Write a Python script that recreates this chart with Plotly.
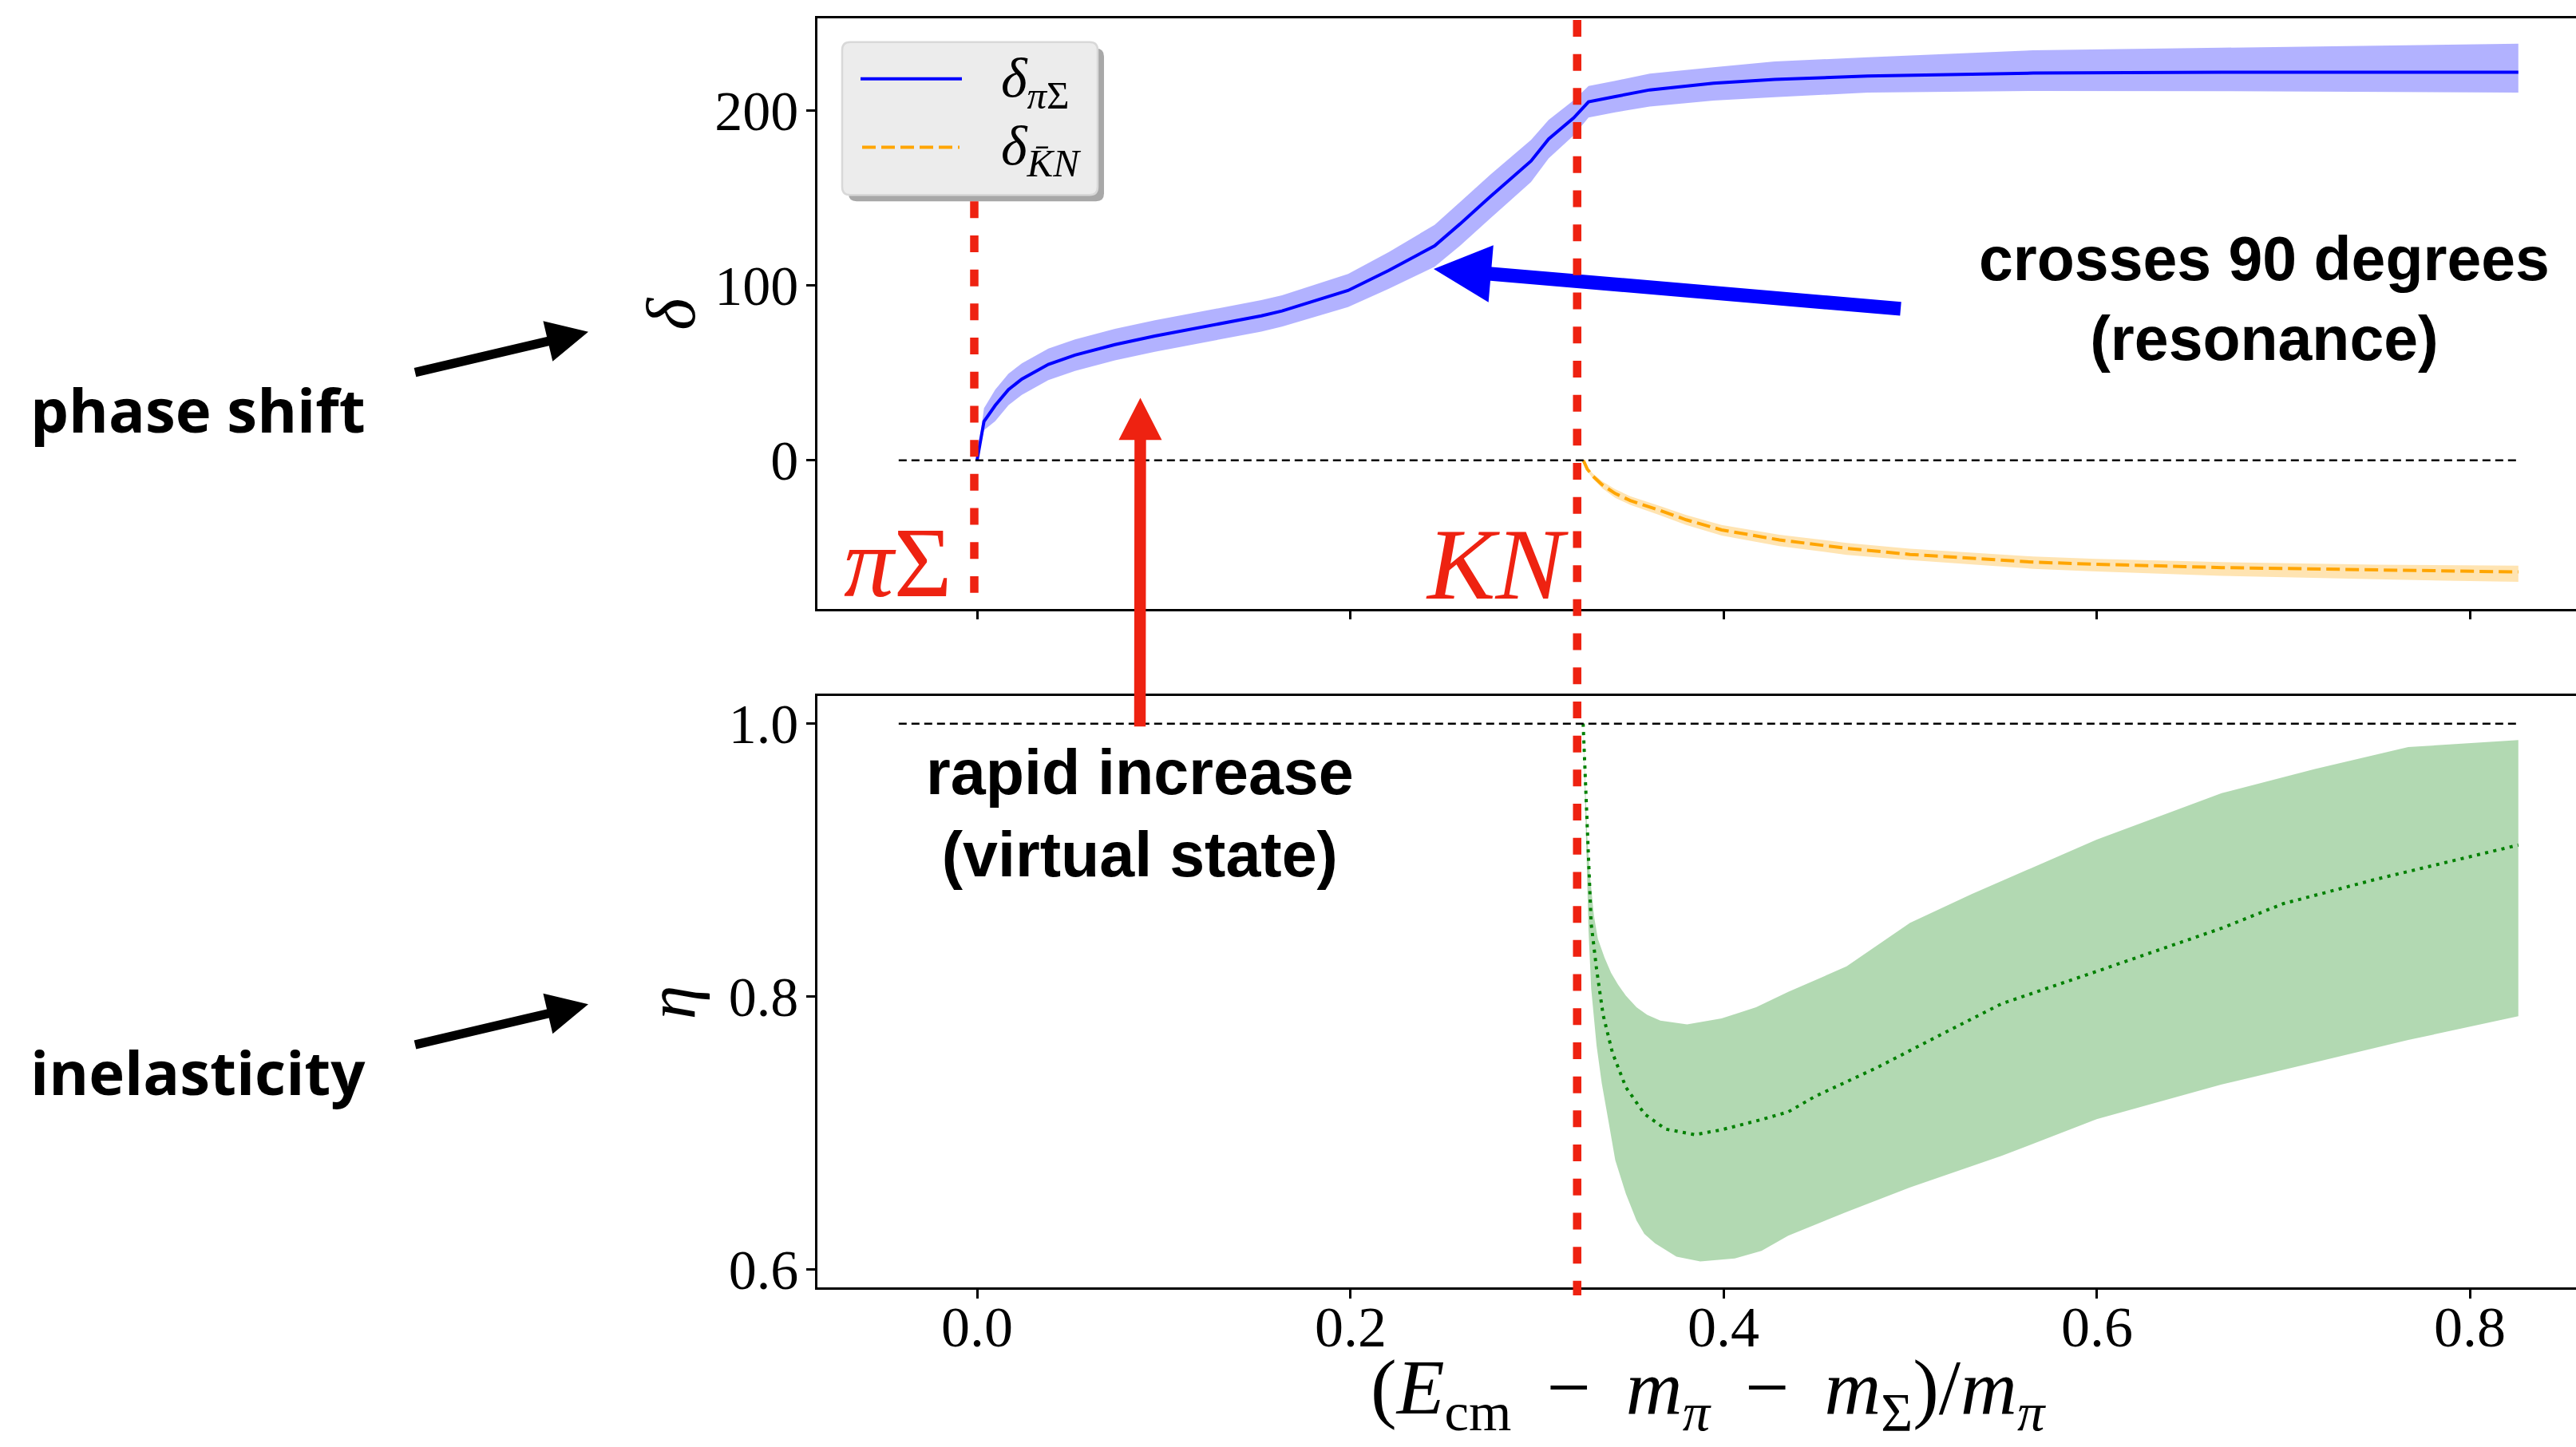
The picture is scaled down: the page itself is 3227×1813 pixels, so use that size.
import math
import plotly.graph_objects as go

W, H = 3227, 1813
# the page is captured slightly squeezed vertically; layout positions are
# expressed in target pixels and divided by this factor
YS = 0.992

# ---------------- data ----------------
# pi-Sigma phase shift (degrees) with its uncertainty band
x_pisig = [0.0, 0.0037, 0.0097, 0.0168, 0.024, 0.0382, 0.0525, 0.0739, 0.0953, 0.1238,
           0.1523, 0.1634, 0.1988, 0.2207, 0.2452, 0.2588, 0.2751, 0.2969, 0.3063, 0.3198,
           0.3277, 0.342, 0.3605, 0.3947, 0.4275, 0.4774, 0.566, 0.667, 0.826]
delta_pisig = [0.0, 22.2, 31.3, 40.4, 46.4, 54.8, 60.1, 66.1, 71.0, 76.7,
               82.5, 85.3, 97.0, 108.5, 122.5, 135.0, 150.7, 171.0, 183.5, 195.7,
               204.8, 207.8, 211.6, 215.4, 217.6, 219.5, 221.2, 221.7, 221.7]
delta_pisig_lo = [0.0, 17.2, 22.3, 31.4, 37.4, 45.8, 51.1, 57.1, 62.0, 67.7,
                  73.5, 76.3, 87.5, 98.0, 110.5, 122.5, 138.2, 159.0, 172.5, 185.7,
                  195.8, 198.8, 202.1, 205.5, 207.4, 210.1, 211.0, 210.9, 210.1]
delta_pisig_hi = [0.0, 29.7, 40.3, 49.4, 55.4, 63.8, 69.1, 75.1, 80.0, 85.7,
                  91.5, 94.3, 106.5, 119.0, 134.5, 147.5, 163.2, 183.0, 194.5, 205.7,
                  213.8, 216.8, 220.9, 224.5, 227.9, 230.2, 234.2, 235.7, 238.0]

# Kbar-N phase shift (degrees)
x_kbarn = [0.3249, 0.327, 0.33, 0.335, 0.342, 0.35, 0.365, 0.38, 0.399, 0.43,
           0.466, 0.5, 0.566, 0.6, 0.667, 0.75, 0.826]
delta_kbarn = [0.0, -5.0, -9.0, -14.0, -19.0, -23.0, -28.3, -34.0, -39.8, -45.5,
               -50.3, -53.8, -58.2, -59.4, -61.3, -62.8, -63.8]
delta_kbarn_lo = [0.0, -6.0, -10.5, -16.0, -21.5, -25.5, -31.0, -37.0, -43.0, -49.0,
                  -54.0, -57.0, -62.0, -63.5, -66.0, -68.0, -69.5]
delta_kbarn_hi = [0.0, -4.0, -7.5, -12.0, -16.5, -20.5, -25.8, -31.3, -37.0, -42.5,
                  -47.2, -50.5, -55.0, -56.3, -58.2, -59.6, -60.2]

# inelasticity eta and its band edges
x_eta = [0.3248, 0.3263, 0.3274, 0.3291, 0.332, 0.3355, 0.3405, 0.3477, 0.3576, 0.369,
         0.3847, 0.399, 0.4204, 0.4347, 0.449, 0.4826, 0.516, 0.549, 0.5993, 0.667,
         0.700, 0.750, 0.826]
eta = [1.0, 0.9457, 0.9038, 0.8535, 0.820, 0.7865, 0.7587, 0.7334, 0.7139, 0.7027,
       0.6986, 0.7022, 0.7097, 0.7153, 0.7266, 0.748, 0.7716, 0.7946, 0.818, 0.850,
       0.868, 0.886, 0.911]
x_eta_hi = [0.3248, 0.3270, 0.3284, 0.3306, 0.3327, 0.3363, 0.3398, 0.3434, 0.3477, 0.3534,
            0.3591, 0.3662, 0.3805, 0.399, 0.4175, 0.4347, 0.466, 0.5, 0.533, 0.6,
            0.667, 0.717, 0.767, 0.826]
eta_hi = [1.0, 0.9177, 0.8898, 0.859, 0.8423, 0.8284, 0.8172, 0.8089, 0.8005, 0.7921,
          0.7865, 0.7823, 0.7795, 0.7838, 0.7921, 0.8033, 0.822, 0.854, 0.875, 0.915,
          0.949, 0.9667, 0.9828, 0.988]
x_eta_lo = [0.3248, 0.3262, 0.3277, 0.3291, 0.332, 0.3348, 0.3384, 0.342, 0.3477, 0.3534,
            0.3576, 0.3633, 0.3748, 0.3876, 0.4061, 0.4204, 0.4347, 0.466, 0.5, 0.549,
            0.6, 0.667, 0.717, 0.767, 0.826]
eta_lo = [1.0, 0.925, 0.848, 0.806, 0.764, 0.7362, 0.7083, 0.680, 0.6553, 0.6357,
          0.6259, 0.619, 0.6092, 0.6056, 0.6078, 0.6134, 0.6245, 0.642, 0.66, 0.683,
          0.710, 0.7354, 0.7517, 0.768, 0.7855]

# reference levels
x_ref = [-0.042, 0.826]
delta_ref = [0.0, 0.0]
eta_ref = [1.0, 1.0]

# channel thresholds marked by red dashed lines
thresholds = [-0.0015, 0.3216]
threshold_labels = ["<i>π</i>Σ", "<i>KN</i>"]

x_ticks = [0.0, 0.2, 0.4, 0.6, 0.8]
x_ticktext = ["0.0", "0.2", "0.4", "0.6", "0.8"]
delta_ticks = [0, 100, 200]
eta_ticks = [0.6, 0.8, 1.0]
eta_ticktext = ["0.6", "0.8", "1.0"]

# ---------------- helpers ----------------
def px(x):
    return x / W


def py(y):
    return 1 - y / (H * YS)


def poly_path(pts):
    s = "M " + " L ".join(f"{px(a):.6f},{py(b):.6f}" for a, b in pts)
    return s + " Z"


def arrow_path(tail, tip, shaft_w, head_len, head_w):
    dx, dy = tip[0] - tail[0], tip[1] - tail[1]
    L = math.hypot(dx, dy)
    ux, uy = dx / L, dy / L
    nx, ny = -uy, ux
    bx, by = tip[0] - ux * head_len, tip[1] - uy * head_len
    s, h = shaft_w / 2, head_w / 2
    pts = [
        (tail[0] + nx * s, tail[1] + ny * s),
        (bx + nx * s, by + ny * s),
        (bx + nx * h, by + ny * h),
        tip,
        (bx - nx * h, by - ny * h),
        (bx - nx * s, by - ny * s),
        (tail[0] - nx * s, tail[1] - ny * s),
    ]
    return poly_path(pts)


def rrect_path(x0, y0, x1, y1, r):
    def p(a, b):
        return f"{px(a):.6f},{py(b):.6f}"
    return (f"M {p(x0 + r, y0)} L {p(x1 - r, y0)} Q {p(x1, y0)} {p(x1, y0 + r)} "
            f"L {p(x1, y1 - r)} Q {p(x1, y1)} {p(x1 - r, y1)} "
            f"L {p(x0 + r, y1)} Q {p(x0, y1)} {p(x0, y1 - r)} "
            f"L {p(x0, y0 + r)} Q {p(x0, y0)} {p(x0 + r, y0)} Z")


SERIF = "Liberation Serif"
SANS = "Liberation Sans"
RED = "#EE2211"

fig = go.Figure()

# ---------------- top panel: phase shifts ----------------
fig.add_trace(go.Scatter(
    x=x_pisig + x_pisig[::-1], y=delta_pisig_hi + delta_pisig_lo[::-1],
    fill="toself", fillcolor="rgba(0,0,255,0.3)", line=dict(width=0),
    mode="lines", hoverinfo="skip", showlegend=False, xaxis="x", yaxis="y"))
fig.add_trace(go.Scatter(
    x=x_kbarn + x_kbarn[::-1], y=delta_kbarn_hi + delta_kbarn_lo[::-1],
    fill="toself", fillcolor="rgba(255,165,0,0.3)", line=dict(width=0),
    mode="lines", hoverinfo="skip", showlegend=False, xaxis="x", yaxis="y"))
fig.add_trace(go.Scatter(
    x=x_pisig, y=delta_pisig, mode="lines", name="δπΣ",
    line=dict(color="blue", width=4), showlegend=False, xaxis="x", yaxis="y"))
fig.add_trace(go.Scatter(
    x=x_kbarn, y=delta_kbarn, mode="lines", name="δKN",
    line=dict(color="orange", width=4, dash="17px,7px"), showlegend=False,
    xaxis="x", yaxis="y"))
fig.add_trace(go.Scatter(
    x=x_ref, y=delta_ref, mode="lines",
    line=dict(color="black", width=2.5, dash="10px,6px"), showlegend=False,
    xaxis="x", yaxis="y"))

# ---------------- bottom panel: inelasticity ----------------
fig.add_trace(go.Scatter(
    x=x_eta_hi + x_eta_lo[::-1], y=eta_hi + eta_lo[::-1],
    fill="toself", fillcolor="rgba(0,128,0,0.3)", line=dict(width=0),
    mode="lines", hoverinfo="skip", showlegend=False, xaxis="x2", yaxis="y2"))
fig.add_trace(go.Scatter(
    x=x_eta, y=eta, mode="lines", name="η",
    line=dict(color="green", width=4, dash="4px,6.5px"), showlegend=False,
    xaxis="x2", yaxis="y2"))
fig.add_trace(go.Scatter(
    x=x_ref, y=eta_ref, mode="lines",
    line=dict(color="black", width=2.5, dash="10px,6px"), showlegend=False,
    xaxis="x2", yaxis="y2"))

# ---------------- axes ----------------
x_range = [(1024 - 1224) / 2337.5, (W - 1224) / 2337.5]
tickfont = dict(family=SERIF, size=70, color="black")
common_x = dict(range=x_range, domain=[1024 / W, 1.0], showline=True, mirror=True,
                linecolor="black", linewidth=2.5, ticks="outside", ticklen=11,
                tickwidth=2.5, tickcolor="black", tickvals=x_ticks,
                showticklabels=False, showgrid=False, zeroline=False)
common_y = dict(showline=True, mirror=False, linecolor="black", linewidth=2.5,
                ticks="outside", ticklen=11, tickwidth=2.5, tickcolor="black",
                showgrid=False, zeroline=False, tickfont=tickfont, ticklabelstandoff=-4)

fig.update_layout(
    width=W, height=H, autosize=False,
    margin=dict(l=0, r=0, t=0, b=0, pad=0),
    paper_bgcolor="white", plot_bgcolor="white",
    showlegend=False,
    xaxis=dict(common_x, anchor="y"),
    yaxis=dict(common_y, anchor="x", domain=[py(762), py(20)],
               range=[-84.8, 252.5], tickvals=delta_ticks,
               ticktext=[str(v) for v in delta_ticks]),
    xaxis2=dict(common_x, anchor="y2"),
    yaxis2=dict(common_y, anchor="x2", domain=[py(1615), py(871.5)],
                range=[0.5866, 1.0204], tickvals=eta_ticks, ticktext=eta_ticktext),
)

shapes = []

# legend frame (shadow, rounded box), sample lines
shapes.append(dict(type="path", xref="paper", yref="paper", layer="above",
                   path=rrect_path(1063, 58, 1383, 250, 10),
                   fillcolor="#a8a8a8", line=dict(width=0)))
shapes.append(dict(type="path", xref="paper", yref="paper", layer="above",
                   path=rrect_path(1055, 50, 1375, 242, 10),
                   fillcolor="#ececec", line=dict(color="#d8d8d8", width=2.5)))
shapes.append(dict(type="line", xref="paper", yref="paper", layer="above",
                   x0=px(1078), x1=px(1205), y0=py(96), y1=py(96),
                   line=dict(color="blue", width=4)))
shapes.append(dict(type="line", xref="paper", yref="paper", layer="above",
                   x0=px(1080), x1=px(1202), y0=py(182), y1=py(182),
                   line=dict(color="orange", width=4, dash="17px,7px")))

# arrows
shapes.append(dict(type="path", xref="paper", yref="paper", layer="above",
                   path=arrow_path((2381, 385), (1796, 335), 17.5, 72, 72),
                   fillcolor="#0000FF", line=dict(width=0)))
shapes.append(dict(type="path", xref="paper", yref="paper", layer="above",
                   path=arrow_path((1428, 910), (1428.5, 497), 14.5, 53, 54),
                   fillcolor=RED, line=dict(width=0)))
shapes.append(dict(type="path", xref="paper", yref="paper", layer="above",
                   path=arrow_path((520, 465), (737, 414), 11.5, 52, 52),
                   fillcolor="black", line=dict(width=0)))
shapes.append(dict(type="path", xref="paper", yref="paper", layer="above",
                   path=arrow_path((520, 1310), (737, 1259), 11.5, 52, 52),
                   fillcolor="black", line=dict(width=0)))

# threshold lines
shapes.append(dict(type="line", xref="x", yref="paper", layer="above",
                   x0=thresholds[0], x1=thresholds[0], y0=py(250), y1=py(742),
                   line=dict(color=RED, width=10.5, dash="21px,21.7px")))
shapes.append(dict(type="line", xref="x", yref="paper", layer="above",
                   x0=thresholds[1], x1=thresholds[1], y0=py(22), y1=py(1625),
                   line=dict(color=RED, width=10.5, dash="21px,21.7px")))

fig.update_layout(shapes=shapes)

ann = []


def text(x, y, s, size, family=SANS, color="black", xanchor="center",
         yanchor="middle", angle=0, align="center", xref="paper"):
    ann.append(dict(x=px(x) if xref == "paper" else x, y=py(y), xref=xref,
                    yref="paper", text=s, showarrow=False, xanchor=xanchor,
                    yanchor=yanchor, textangle=angle, align=align,
                    font=dict(family=family, size=size, color=color)))


text(248, 511, "<b>phase shift</b>", 76, family="Open Sans")
text(248, 1344, "<b>inelasticity</b>", 76, family="Open Sans")
text(2836, 372, "<b>crosses 90 degrees<br>(resonance)</b>", 77)
text(1428, 1019, "<b>rapid increase<br>(virtual state)</b>", 79)

# threshold labels
text(1124, 704, threshold_labels[0], 125, family=SERIF, color=RED)
text(1875, 706, threshold_labels[1], 128, family=SERIF, color=RED)

# x tick labels of the shared energy axis
for v, t in zip(x_ticks, x_ticktext):
    text(v, 1665, t, 72, family=SERIF, xref="x2")

# axis titles
text(841, 391, "<i>δ</i>", 86, family=SERIF, angle=-90)
text(841, 1257, "<i>η</i>", 86, family=SERIF, angle=-90)
MINUS = " \u2009−\u2009 "
text(2140, 1748,
     "(<i>E</i><sub>cm</sub>" + MINUS + "<i>m</i><sub><i>π</i></sub>" + MINUS
     + "<i>m</i><sub>Σ</sub>)/<i>m</i><sub><i>π</i></sub>",
     98, family=SERIF)

# legend labels
text(1252, 100, "<i>δ</i><sub><i>π</i>Σ</sub>", 70, family=SERIF, xanchor="left")
text(1252, 186, "<i>δ</i><sub><i>K\u0304N</i></sub>", 70, family=SERIF, xanchor="left")

fig.update_layout(annotations=ann)

fig.write_html("out.html")
